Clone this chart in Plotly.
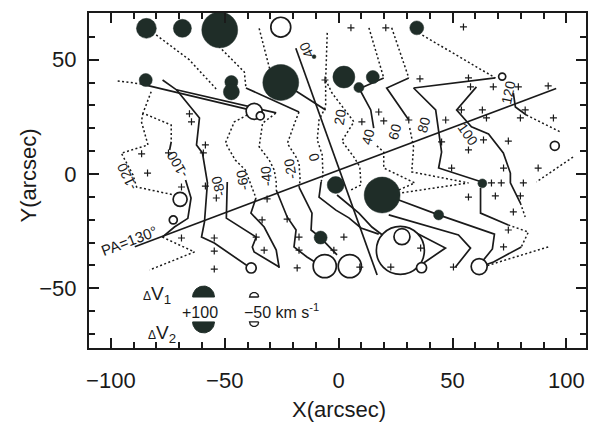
import numpy as np
import plotly.graph_objects as go

# ---------------- canvas / axes ----------------
W, H = 590, 423
MARGIN = dict(l=89, r=2, t=13, b=75)
X_RANGE = [-109.6, 108.6]
Y_RANGE = [-76.1, 70.4]
PXU = (W - MARGIN['l'] - MARGIN['r']) / (X_RANGE[1] - X_RANGE[0])  # px per arcsec

INK = '#1a1a1a'
DISC = '#1f2d28'
FONT = 'Liberation Sans, Arial, sans-serif'

X_TICKS = [-100, -50, 0, 50, 100]
X_TICKTEXT = ['\u2212100', '\u221250', '0', '50', '100']
Y_TICKS = [-50, 0, 50]
Y_TICKTEXT = ['\u221250', '0', '50']

# ---------------- data (arcsec) ----------------
# filled discs: positive residual velocity
FILLED_X = [-84.4, -68.6, -52.2, -84.7, -47.1, -47.1, -25.4, 2.3, 15.0, 8.9, 34.3, -1.3, 63.1, 19.1, 43.9, -7.9, -10.8]
FILLED_Y = [63.7, 63.7, 63.0, 41.1, 40.2, 35.9, 40.0, 42.4, 42.4, 37.8, 63.9, -4.8, -4.1, -9.2, -17.9, -27.8, 51.3]
FILLED_D = [8.7, 7.9, 15.7, 5.7, 5.7, 7.0, 15.7, 9.6, 5.7, 4.4, 6.1, 7.4, 3.9, 15.7, 4.4, 5.7, 1.7]

# open circles: negative residual velocity
OPEN_X = [-25.4, -37.1, -34.4, 71.8, 94.9, 27.1, 27.8, 36.4, 61.7, -6.1, 4.9, -69.6, -72.6, -38.4]
OPEN_Y = [64.2, 27.4, 25.4, 42.6, 12.3, -33.4, -27.4, -41.0, -40.5, -40.3, -40.3, -11.1, -20.1, -41.1]
OPEN_D = [8.7, 7.0, 3.5, 3.1, 3.9, 21.0, 7.0, 4.4, 7.0, 10.1, 10.1, 6.1, 3.5, 4.4]

# observed positions
PLUS_X = [-6.0, -65.5, -64.6, -58.5, -59.4, -86.5, -83.9, -74.7, -69.0, -58.5, -53.7, 5.4, 20.7, 54.8,
          35.7, 57.0, 57.9, 67.9, 78.9, 92.0, 17.6, 19.8, 10.2, 30.8, 47.0, 53.9, 63.1, 64.9, 81.9, 79.8,
          94.3, 45.2, 57.0, 63.6, 74.5, 49.6, 72.4, 87.6, 67.1, 71.4, 81.1, 57.0, 68.8, 79.8, 76.7, 74.5,
          72.4, 2.3, -2.1, 50.4, 36.0, 22.9, 9.3, -33.6, -22.6, -17.4, -32.7, -17.4, -18.2, -31.4, -36.2,
          -69.0, -54.6, -54.6, -54.6]
PLUS_Y = [41.1, 26.3, 22.8, 12.7, 9.2, 8.8, 0.4, 9.2, -5.7, -5.3, -10.5, 63.9, 63.9, 64.3,
          41.6, 42.0, 38.1, 38.1, 38.1, 38.5, 27.1, 23.2, 22.8, 23.6, 23.6, 28.0, 28.0, 24.5, 28.0, 24.5,
          24.5, 14.0, 10.5, 14.9, 14.4, 2.6, 2.6, 2.6, -3.9, -3.9, -3.9, -10.1, -9.6, -9.6, -16.6, -24.5,
          -31.9, -27.6, -33.3, -40.7, -32.4, -40.7, -40.7, -20.1, -19.7, -27.6, -33.3, -33.3, -41.1, -10.9, -27.6,
          -28.0, -28.0, -33.7, -41.6]

# iso-velocity contours and connecting lines
SOLID_LINES = [
    ([-40.7, -17.4], [37.6, 27.1]),
    ([-86.9, -37.1], [39.4, 27.6]),
    ([-77.3, -71.2, -27.4], [41.1, 36.8, 26.7]),
    ([-73.5, -74.2], [14.1, 10.5]),
    ([-67.2, -64.8, -66.2, -72.1, -77.4], [-2.6, -10.5, -19.4, -23.2, -27.6]),
    ([-71.2, -61.1, -62.4, -59.8, -57.6, -58.9, -60.2, -54.6, -40.6, -38.1],
     [36.8, 24.5, 12.7, 9.2, -3.9, -21.0, -27.6, -30.2, -39.8, -40.7]),
    ([-36.3, -38.5, -32.7, -27.4, -26.1], [-10.5, -17.1, -23.2, -33.3, -41.1]),
    ([-48.9, -49.3, -36.2, -37.9, -37.1, -26.1], [-3.5, -19.3, -27.6, -31.9, -34.1, -40.7]),
    ([-27.4, -22.6, -18.7, -19.6, -13.9, -10.4], [-7.0, -18.8, -24.5, -31.9, -36.3, -38.5]),
    ([-17.4, -11.7, -12.1, -8.2], [-5.7, -17.1, -24.5, -27.6]),
    ([-7.7, -8.6, -1.2, 4.5, 9.8, 17.6], [-3.5, -10.1, -15.8, -19.2, -23.6, -26.3]),
    ([-0.7, 8.9, 14.6, 19.8], [-9.2, -17.1, -23.2, -27.1]),
    ([-19.6, -5.7], [36.8, 28.0]),
    ([30.8, 21.1, 30.8], [42.0, 37.6, 23.6]),
    ([19.8, 9.8], [42.0, 37.6]),
    ([8.9, 14.1, 15.4], [37.6, 28.0, 20.1]),
    ([68.8, 32.9], [42.0, 37.6]),
    ([32.9, 42.6, 45.2, 43.9, 62.9], [37.6, 28.0, 9.6, 2.6, -3.5]),
    ([62.3, 62.3, 74.5], [-6.1, -17.1, -22.3]),
    ([80.2, 68.0, 61.8], [-31.9, -38.5, -40.7]),
    ([60.5, 51.8, 58.3, 65.8, 72.3, 75.4, 75.4, 79.8], [38.1, 28.0, 20.6, 17.5, 9.2, 0.4, -3.9, -12.7]),
    ([76.7, 77.6, 82.4], [35.4, 29.3, 25.8]),
    ([26.4, 43.9, 68.4, 67.5, 61.8], [-11.4, -17.9, -26.3, -32.8, -39.8]),
    ([22.0, 52.6, 57.9, 51.3], [-17.9, -26.7, -32.4, -40.7]),
    ([31.6, 46.9, 37.3], [-24.5, -32.4, -38.9]),
    ([-8.2, -0.7], [-27.6, -35.4]),
]
DOTTED_LINES = [
    ([-80.1, -65.5, -53.8], [60.8, 49.9, 37.2]),
    ([-56.7, -41.4, -40.7], [59.9, 44.6, 37.6]),
    ([-97.0, -86.9], [40.7, 39.4]),
    ([-85.9, -86.6, -83.7, -95.4, -90.3, -88.7, -72.1, -69.1], [26.6, 22.9, 12.7, 9.1, -0.4, -5.7, -9.2, -10.6]),
    ([-82.3, -85.9, -73.5, -73.5], [36.0, 26.6, 21.4, 14.1]),
    ([-77.4, -63.3, -83.0], [-27.6, -34.1, -42.0]),
    ([-38.4, -45.8, -49.7, -45.4, -41.0, -38.4, -36.3], [26.7, 22.8, 13.6, 6.1, 1.8, -4.8, -10.5]),
    ([-27.6, -33.4, -34.9, -30.5, -28.3, -27.4, -27.4], [26.6, 22.2, 11.9, 6.1, 1.8, -3.5, -7.0]),
    ([-17.4, -18.8, -22.5, -18.8, -17.4, -16.9, -17.4], [27.1, 23.6, 13.4, 7.6, 4.7, -2.6, -5.7]),
    ([-5.0, -5.7, -5.7, -8.6, -9.4, -7.2, -6.9, -7.7], [61.7, 41.1, 29.4, 23.6, 14.9, 8.3, -0.4, -3.5]),
    ([-5.7, -2.9, 6.7, 1.4, 6.7, 9.3, 9.8, 5.4], [41.1, 35.4, 22.8, 14.4, 7.4, 3.1, -4.8, -7.0]),
    ([-34.9, -30.5, -29.6], [63.7, 46.9, 43.3]),
    ([23.3, 30.8], [63.9, 42.0]),
    ([31.2, 32.9, 32.1, 57.0, 27.3], [20.1, 11.8, 0.9, -3.9, -8.3]),
    ([13.3, 19.8], [63.9, 42.0]),
    ([16.8, 19.8, 19.8, 33.4, 26.4], [12.3, 9.6, 2.6, -3.9, -7.0]),
    ([35.1, 68.8], [61.7, 42.0]),
    ([74.5, 83.3, 80.2], [-22.3, -25.4, -31.9]),
    ([79.8, 81.9], [-12.7, -18.8]),
    ([82.4, 97.3], [25.8, 18.4]),
    ([102.9, 86.8], [7.4, -3.5]),
    ([92.0, 61.8], [-31.9, -41.1]),
]

PA_LINE_X = [-89.5, 95.5]
PA_LINE_Y = [-31.8, 37.4]
MINOR_AXIS_X = [-18.8, 16.9]
MINOR_AXIS_Y = [55.0, -44.2]

# contour labels (km/s)
LABEL_TEXT = ['-120', '-100', '-80', '-60', '-40', '-20', '0', '20', '40', '60', '80', '100', '120', '40']
LABEL_X = [-93.0, -70.7, -52.8, -42.3, -31.8, -21.3, -10.8, 0.6, 12.8, 24.6, 37.3, 57.0, 74.5, -14.3]
LABEL_Y = [-1.3, 3.9, -5.3, -2.6, -0.9, 2.2, 7.4, 24.9, 16.2, 18.4, 21.4, 17.1, 35.9, 54.3]
LABEL_ANGLE = [-115, -120, -105, -100, -95, -100, -105, -80, -75, -75, -75, 55, -78, -115]

# key
KEY_DISC_X = [-59.3, -59.3]
KEY_DISC_Y = [-53.8, -64.7]
KEY_DISC_R = [4.8, 4.8]
KEY_OPEN_X = [-37.1, -37.1]
KEY_OPEN_Y = [-53.8, -64.7]
KEY_OPEN_R = [2.0, 2.0]
KEY_HALF = ['top', 'bottom']

# ---------------- figure ----------------
fig = go.Figure()

for xs, ys in SOLID_LINES:
    fig.add_trace(go.Scatter(x=xs, y=ys, mode='lines', line=dict(color=INK, width=1.7),
                             hoverinfo='skip', showlegend=False))
for xs, ys in DOTTED_LINES:
    fig.add_trace(go.Scatter(x=xs, y=ys, mode='lines', line=dict(color=INK, width=1.5, dash='2px,2.4px'),
                             hoverinfo='skip', showlegend=False))
for xs, ys in [(PA_LINE_X, PA_LINE_Y), (MINOR_AXIS_X, MINOR_AXIS_Y)]:
    fig.add_trace(go.Scatter(x=xs, y=ys, mode='lines', line=dict(color=INK, width=1.7),
                             hoverinfo='skip', showlegend=False))

fig.add_trace(go.Scatter(x=OPEN_X, y=OPEN_Y, mode='markers',
                         marker=dict(size=[d * PXU for d in OPEN_D], color='white', opacity=1,
                                     line=dict(color=INK, width=1.7)),
                         hoverinfo='skip', showlegend=False))
fig.add_trace(go.Scatter(x=FILLED_X, y=FILLED_Y, mode='markers',
                         marker=dict(size=[d * PXU for d in FILLED_D], color=DISC, opacity=1,
                                     line=dict(color=DISC, width=0.5)),
                         hoverinfo='skip', showlegend=False))
fig.add_trace(go.Scatter(x=PLUS_X, y=PLUS_Y, mode='markers',
                         marker=dict(symbol='cross-thin', size=5, opacity=1, line=dict(color=INK, width=1.2)),
                         hoverinfo='skip', showlegend=False))

# key half discs
t = np.linspace(0, np.pi, 40)
for cx, cy, r, half in zip(KEY_DISC_X, KEY_DISC_Y, KEY_DISC_R, KEY_HALF):
    s = 1 if half == 'top' else -1
    xs = list(cx + r * np.cos(t)) + [cx + r]
    ys = list(cy + s * r * np.sin(t)) + [cy]
    fig.add_trace(go.Scatter(x=xs, y=ys, mode='lines', fill='toself', fillcolor=DISC,
                             line=dict(color=DISC, width=1), hoverinfo='skip', showlegend=False))
for cx, cy, r, half in zip(KEY_OPEN_X, KEY_OPEN_Y, KEY_OPEN_R, KEY_HALF):
    s = 1 if half == 'top' else -1
    xs = list(cx + r * np.cos(t)) + [cx + r]
    ys = list(cy + s * r * np.sin(t)) + [cy]
    fig.add_trace(go.Scatter(x=xs, y=ys, mode='lines', line=dict(color=INK, width=1.3),
                             hoverinfo='skip', showlegend=False))

ann = []
for txt, x, y, a in zip(LABEL_TEXT, LABEL_X, LABEL_Y, LABEL_ANGLE):
    ann.append(dict(x=x, y=y, xref='x', yref='y', text=txt, showarrow=False, textangle=a,
                    xanchor='center', yanchor='middle',
                    font=dict(family=FONT, size=14, color=INK)))
ann.append(dict(x=-91.7, y=-29.3, xref='x', yref='y', text='PA=130\u00b0', showarrow=False, textangle=-21,
                xanchor='center', yanchor='middle', font=dict(family=FONT, size=15, color=INK)))
ann.append(dict(x=-79.9, y=-52.9, xref='x', yref='y', showarrow=False, xanchor='center', yanchor='middle',
                text="<span style='font-size:12px'>\u0394</span>V<sub>1</sub>",
                font=dict(family=FONT, size=19, color=INK)))
ann.append(dict(x=-77.7, y=-70.0, xref='x', yref='y', showarrow=False, xanchor='center', yanchor='middle',
                text="<span style='font-size:12px'>\u0394</span>V<sub>2</sub>",
                font=dict(family=FONT, size=19, color=INK)))
ann.append(dict(x=-60.7, y=-60.4, xref='x', yref='y', showarrow=False, text='+100',
                xanchor='center', yanchor='middle', font=dict(family=FONT, size=16, color=INK)))
ann.append(dict(x=-25.2, y=-59.9, xref='x', yref='y', showarrow=False, text='\u221250 km s<sup>-1</sup>',
                xanchor='center', yanchor='middle', font=dict(family=FONT, size=16, color=INK)))
ann.append(dict(x=0.503, y=-0.185, xref='paper', yref='paper', showarrow=False, text='X(arcsec)',
                xanchor='center', yanchor='middle', font=dict(family=FONT, size=22, color=INK)))
ann.append(dict(x=-0.122, y=0.516, xref='paper', yref='paper', showarrow=False, text='Y(arcsec)',
                xanchor='center', yanchor='middle', textangle=-90,
                font=dict(family=FONT, size=22, color=INK)))

axis_common = dict(showgrid=False, zeroline=False, showline=True, linecolor=INK, linewidth=2,
                   mirror='ticks', ticks='inside', ticklen=10, tickwidth=1.5, tickcolor=INK,
                   tickfont=dict(family=FONT, size=22, color=INK),
                   minor=dict(dtick=10, tick0=0, ticks='inside', ticklen=6, tickwidth=1.5, tickcolor=INK))

fig.update_layout(
    width=W, height=H, margin=MARGIN, paper_bgcolor='white', plot_bgcolor='white',
    showlegend=False, hovermode=False, annotations=ann,
    xaxis=dict(range=X_RANGE, tickvals=X_TICKS, ticktext=X_TICKTEXT, ticklabelstandoff=12, **axis_common),
    yaxis=dict(range=Y_RANGE, tickvals=Y_TICKS, ticktext=Y_TICKTEXT, ticklabelstandoff=6, **axis_common),
)

fig.write_html('out.html')
